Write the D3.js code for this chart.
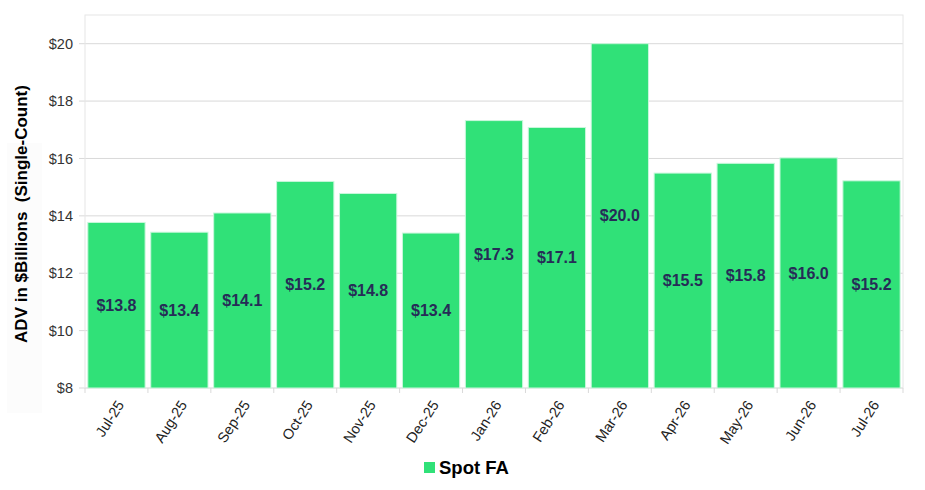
<!DOCTYPE html>
<html lang="en">
<head>
  <meta charset="UTF-8">
  <title>Spot FA ADV</title>
  <script src="https://d3js.org/d3.v7.min.js"></script>
  <style>
    body { margin: 0; background: #fff; font-family: "Liberation Sans", Arial, sans-serif; }
    svg { display: block; }
  </style>
</head>
<body>
  <svg width="925" height="490"></svg>
  <script>
    // months and ADV values
    const months = ["Jul-25", "Aug-25", "Sep-25", "Oct-25", "Nov-25", "Dec-25", "Jan-26",
                    "Feb-26", "Mar-26", "Apr-26", "May-26", "Jun-26", "Jul-26"];
    const spotFA = [13.77, 13.43, 14.1, 15.2, 14.78, 13.4, 17.32, 17.08, 20.0, 15.49, 15.83, 16.02, 15.22];
    const yTicks = [8, 10, 12, 14, 16, 18, 20];
    const seriesName = "Spot FA";

    const svg = d3.select("svg");
    const margin = { top: 15, right: 22, bottom: 102, left: 85 };
    const width = 925, height = 490;
    const innerW = width - margin.left - margin.right;
    const innerH = height - margin.top - margin.bottom;

    const x = d3.scaleBand().domain(months).range([0, innerW]).paddingInner(0.09).paddingOuter(0.045);
    const y = d3.scaleLinear().domain([8, 21]).range([innerH, 0]);

    // faint panel behind the axis title
    svg.append("rect")
       .attr("x", 7).attr("y", 143).attr("width", 35).attr("height", 270)
       .attr("fill", "#fcfcfc");

    const g = svg.append("g").attr("transform", `translate(${margin.left},${margin.top})`);

    // gridlines
    g.selectAll(".grid")
     .data(yTicks)
     .enter().append("line")
     .attr("x1", -6).attr("x2", innerW)
     .attr("y1", d => y(d)).attr("y2", d => y(d))
     .attr("stroke", "#d9d9d9").attr("stroke-width", 1);

    // plot frame
    g.append("rect")
     .attr("x", 0).attr("y", 0).attr("width", innerW).attr("height", innerH)
     .attr("fill", "none").attr("stroke", "#e6e6e6").attr("stroke-width", 1);

    // y tick labels
    g.selectAll(".ylab")
     .data(yTicks)
     .enter().append("text")
     .attr("x", -12).attr("y", d => y(d)).attr("dy", "0.35em")
     .attr("text-anchor", "end")
     .attr("font-size", 14.5).attr("fill", "#333")
     .text(d => "$" + d);

    // x ticks at band boundaries
    const step = x.step();
    const bounds = d3.range(months.length + 1).map(i => x(months[0]) - step * x.paddingInner() / 2 + i * step);
    g.selectAll(".xtick")
     .data(bounds)
     .enter().append("line")
     .attr("x1", d => d).attr("x2", d => d)
     .attr("y1", innerH).attr("y2", innerH + 5)
     .attr("stroke", "#d9d9d9");

    // bars
    g.selectAll(".bar")
     .data(spotFA)
     .enter().append("rect")
     .attr("x", (d, i) => x(months[i]))
     .attr("y", d => y(d))
     .attr("width", x.bandwidth())
     .attr("height", d => y(8) - y(d))
     .attr("fill", "#30e178")
     .attr("stroke", "#c9f7dc").attr("stroke-width", 1);

    // value labels centred in each bar
    g.selectAll(".val")
     .data(spotFA)
     .enter().append("text")
     .attr("x", (d, i) => x(months[i]) + x.bandwidth() / 2)
     .attr("y", d => (y(d) + y(8)) / 2)
     .attr("dy", "0.35em")
     .attr("text-anchor", "middle")
     .attr("font-size", 16).attr("font-weight", "bold").attr("fill", "#262c57")
     .text(d => "$" + d.toFixed(1));

    // x labels, rotated
    g.selectAll(".xlab")
     .data(months)
     .enter().append("text")
     .attr("transform", d => `translate(${x(d) + x.bandwidth() / 2 + 4},${innerH + 14}) rotate(-57)`)
     .attr("text-anchor", "end")
     .attr("dy", "0.35em")
     .attr("font-size", 14.5).attr("fill", "#222")
     .text(d => d);

    // y axis title
    svg.append("text")
       .attr("transform", "translate(21,214) rotate(-90)")
       .attr("text-anchor", "middle")
       .attr("dy", "0.35em")
       .attr("font-size", 17).attr("font-weight", "bold").attr("fill", "#000")
       .attr("xml:space", "preserve")
       .text("ADV in $Billions  (Single-Count)");

    // legend
    const legend = svg.append("g").attr("transform", "translate(424,462)");
    legend.append("rect")
          .attr("width", 11).attr("height", 11)
          .attr("fill", "#30e178");
    legend.append("text")
          .attr("x", 15).attr("y", 5.5).attr("dy", "0.35em")
          .attr("font-size", 18.5).attr("font-weight", "bold").attr("fill", "#000")
          .text(seriesName);
  </script>
</body>
</html>
